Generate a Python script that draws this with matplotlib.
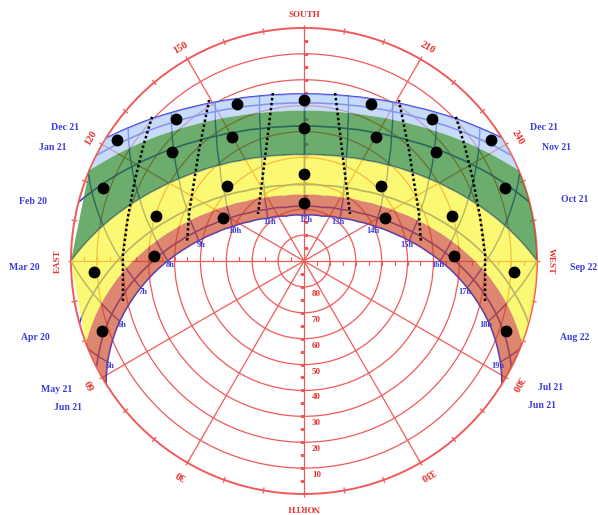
"""
Sun path diagram (latitude about 41 N), south at the top
"""
import numpy as np
import matplotlib
matplotlib.use("Agg")
import matplotlib.pyplot as plt
from matplotlib.markers import TICKLEFT, TICKRIGHT, TICKUP, TICKDOWN

NA = float("nan")

# solar time of the samples (morning half, the afternoon is the mirror image)
HOURS = [5, 5.5, 6, 6.5, 7, 7.5, 8, 8.5, 9, 9.5, 10, 10.5, 11, 11.5, 12]

# sunrise azimuth, then azimuth / altitude at each sample hour (nan = sun down)
DEC21_RISE = 121.8
DEC21_AZ = [NA, NA, NA, NA, NA, 122.0, 127.1, 132.5, 138.2, 144.3, 150.8, 157.7, 164.9, 172.4, 180.0]
DEC21_ALT = [NA, NA, NA, NA, NA, 0.2, 4.9, 9.2, 13.2, 16.8, 19.8, 22.3, 24.1, 25.2, 25.6]
JAN21_RISE = 116.9
JAN21_AZ = [NA, NA, NA, NA, NA, 119.6, 124.8, 130.4, 136.2, 142.6, 149.3, 156.5, 164.1, 172.0, 180.0]
JAN21_ALT = [NA, NA, NA, NA, NA, 2.7, 7.5, 12.0, 16.1, 19.8, 22.9, 25.5, 27.4, 28.6, 29.0]
FEB20_RISE = 104.6
FEB20_AZ = [NA, NA, NA, NA, 108.1, 113.3, 118.7, 124.5, 130.8, 137.6, 145.0, 153.0, 161.7, 170.6, 180.0]
FEB20_ALT = [NA, NA, NA, NA, 3.8, 9.1, 14.2, 19.0, 23.5, 27.6, 31.1, 34.0, 36.2, 37.5, 38.0]
MAR20_RISE = 90.0
MAR20_AZ = [NA, NA, NA, 94.9, 100.0, 105.2, 110.7, 116.7, 123.3, 130.6, 138.7, 147.8, 157.8, 168.7, 180.0]
MAR20_ALT = [NA, NA, NA, 5.6, 11.3, 16.8, 22.2, 27.4, 32.3, 36.8, 40.8, 44.2, 46.8, 48.4, 49.0]
APR20_RISE = 74.5
APR20_AZ = [NA, 76.4, 81.2, 86.0, 90.9, 95.9, 101.3, 107.1, 113.6, 121.0, 129.6, 139.7, 151.6, 165.2, 180.0]
APR20_ALT = [NA, 2.0, 7.6, 13.2, 18.9, 24.5, 30.1, 35.6, 40.9, 45.9, 50.5, 54.6, 57.8, 59.9, 60.6]
MAY21_RISE = 62.9
MAY21_AZ = [65.2, 70.0, 74.6, 79.1, 83.7, 88.4, 93.4, 98.8, 104.9, 111.9, 120.3, 130.8, 144.1, 160.8, 180.0]
MAY21_ALT = [2.4, 7.6, 13.0, 18.5, 24.1, 29.8, 35.4, 41.1, 46.6, 52.0, 57.1, 61.7, 65.5, 68.1, 69.1]
JUN21_RISE = 58.2
JUN21_AZ = [62.8, 67.4, 71.9, 76.3, 80.7, 85.3, 90.1, 95.2, 100.9, 107.6, 115.7, 126.1, 139.8, 158.0, 180.0]
JUN21_ALT = [4.7, 9.8, 15.1, 20.6, 26.1, 31.7, 37.4, 43.0, 48.6, 54.1, 59.4, 64.2, 68.4, 71.3, 72.4]

# edges of the coloured bands that do not sit on a date line
BLUE_GREEN_RISE = 112.8
BLUE_GREEN_AZ = [NA, NA, NA, NA, NA, 117.5, 122.8, 128.5, 134.5, 141.0, 148.0, 155.4, 163.3, 171.6, 180.0]
BLUE_GREEN_ALT = [NA, NA, NA, NA, NA, 4.8, 9.7, 14.3, 18.6, 22.4, 25.7, 28.4, 30.4, 31.6, 32.0]
YELLOW_RED_RISE = 69.3
YELLOW_RED_AZ = [NA, 73.4, 78.2, 82.9, 87.7, 92.6, 97.8, 103.5, 109.8, 117.1, 125.7, 136.0, 148.6, 163.5, 180.0]
YELLOW_RED_ALT = [NA, 4.6, 10.1, 15.7, 21.3, 27.0, 32.6, 38.2, 43.6, 48.8, 53.6, 57.9, 61.4, 63.7, 64.5]

# where the 5h, 6h and 7h lines meet the horizon
HOUR_HORIZON_AZ = [67.8, 90.0, 112.2]

# black dots
ROW1_AZ = [123, 138, 157, 180, 203, 222, 237]
ROW1_ALT = [4.0, 16.0, 24.0, 27.8, 24.0, 16.0, 4.0]
ROW2_AZ = [110, 129.5, 150, 180, 210, 230.5, 250]
ROW2_ALT = [7.3, 23.8, 34.7, 38.6, 34.7, 23.8, 7.3]
ROW3_AZ = [87, 107, 134, 180, 226, 253, 273]
ROW3_ALT = [8.6, 30.4, 48.5, 56.4, 48.5, 30.4, 8.6]
ROW4_AZ = [71, 92, 118, 180, 242, 268, 289]
ROW4_ALT = [7.3, 32.0, 54.4, 67.6, 54.4, 32.0, 7.3]

# dotted lines (morning side, mirrored for the afternoon)
DOTTED_A_AZ = [133.5, 125.3, 115.6, 104.0, 91.9, 77.2]
DOTTED_A_ALT = [9.1, 13.8, 17.6, 19.9, 20.0, 18.3]
DOTTED_B_AZ = [149.5, 136.6, 112.7, 98.7]
DOTTED_B_ALT = [17.8, 31.0, 41.9, 44.3]
DOTTED_C_AZ = [169.5, 161.1, 135.6]
DOTTED_C_ALT = [24.0, 44.7, 64.6]

LEFT_DATES = ["Dec 21", "Jan 21", "Feb 20", "Mar 20", "Apr 20", "May 21", "Jun 21"]
RIGHT_DATES = ["Dec 21", "Nov 21", "Oct 21", "Sep 22", "Aug 22", "Jul 21", "Jun 21"]
ALT_LABELS = [80, 70, 60, 50, 40, 30, 20, 10]
AZ_LABELS = ["NORTH", "30", "60", "EAST", "120", "150", "SOUTH", "210", "240",
             "WEST", "300", "330"]

RED = "#f05a5a"
RED_TXT = "#e8322e"
BLUE = "#3c3cdc"
FONT = "Liberation Serif"

CURVES = {
    "dec21": (DEC21_RISE, DEC21_AZ, DEC21_ALT),
    "jan21": (JAN21_RISE, JAN21_AZ, JAN21_ALT),
    "feb20": (FEB20_RISE, FEB20_AZ, FEB20_ALT),
    "mar20": (MAR20_RISE, MAR20_AZ, MAR20_ALT),
    "apr20": (APR20_RISE, APR20_AZ, APR20_ALT),
    "may21": (MAY21_RISE, MAY21_AZ, MAY21_ALT),
    "jun21": (JUN21_RISE, JUN21_AZ, JUN21_ALT),
    "blue_green": (BLUE_GREEN_RISE, BLUE_GREEN_AZ, BLUE_GREEN_ALT),
    "yellow_red": (YELLOW_RED_RISE, YELLOW_RED_AZ, YELLOW_RED_ALT),
}
DATE_CURVES = ["dec21", "jan21", "feb20", "mar20", "apr20", "may21", "jun21"]


def full_path(name):
    """sunrise -> noon -> sunset, as (theta, r) with r = zenith distance"""
    rise, azs, alts = CURVES[name]
    az = [rise] + [a for a in azs if not np.isnan(a)]
    alt = [0.0] + [a for a in alts if not np.isnan(a)]
    az = az + [360 - a for a in az[::-1][1:]]
    alt = alt + alt[::-1][1:]
    return np.radians(az), 90 - np.array(alt)


def curved(artist):
    # let the polar transform bend the segments instead of drawing chords
    artist.get_path()._interpolation_steps = 16
    return artist


fig = plt.figure(figsize=(5.98, 5.15), dpi=100)
ax = fig.add_axes([0.1187, 0.0408, 0.7793, 0.9049], projection="polar")
ax.set_theta_zero_location("S")
ax.set_theta_direction(-1)
ax.set_rlim(0, 90)
ax.set_axisbelow(True)
ax.set_thetagrids(range(0, 360, 30), labels=[])
ax.set_rgrids(range(10, 90, 10), labels=[])
ax.grid(True, color=RED, lw=0.9)
ax.spines["polar"].set_color(RED)
ax.spines["polar"].set_linewidth(1.4)
ax.tick_params(axis="x", which="major", length=0)
ax.tick_params(axis="y", length=0)

# short marks across the rim every 10 degrees
rim = np.radians(np.arange(0, 360, 10))
for dr in (-1.2, 1.2):
    ax.vlines(rim, 90, 90 + dr, color=RED, lw=0.9, zorder=1, clip_on=False)

# small ticks along the four main axes
ticks_r = np.arange(5, 90, 5)
for az, mk in [(0, TICKLEFT), (90, TICKUP), (180, TICKRIGHT), (270, TICKDOWN)]:
    ax.plot(np.full(len(ticks_r), np.radians(az)), ticks_r, ls="none", marker=mk,
            ms=3, mew=0.8, color=RED, zorder=1)

for alt in ALT_LABELS:
    ax.annotate(str(alt), (0, 90 - alt + 2.7), xytext=(9, 0), textcoords="offset points",
                ha="center", va="center", fontsize=6.5, color=RED_TXT,
                family=FONT, fontweight="bold")

for i, lab in enumerate(AZ_LABELS):
    az = 30 * i
    ax.text(np.radians(az), 95.2, lab, rotation=180 - az, rotation_mode="anchor",
            ha="center", va="center", fontsize=6.5 if lab.isalpha() else 7.5,
            color=RED_TXT, family=FONT, fontweight="bold")

# sun paths
for name in DATE_CURVES:
    th, r = full_path(name)
    curved(ax.plot(th, r, color=BLUE, lw=1.2, zorder=2)[0])

# hour lines and their labels
for k, h in enumerate(HOURS):
    if h != int(h):
        continue
    az = [CURVES[n][1][k] for n in DATE_CURVES if not np.isnan(CURVES[n][1][k])]
    alt = [CURVES[n][2][k] for n in DATE_CURVES if not np.isnan(CURVES[n][2][k])]
    if int(h) - 5 < len(HOUR_HORIZON_AZ):
        az = [HOUR_HORIZON_AZ[int(h) - 5]] + az
        alt = [0.0] + alt
    az = np.array(az)
    alt = np.array(alt)
    for a in (az, 360 - az):
        curved(ax.plot(np.radians(a), 90 - alt, color=BLUE, lw=1.0, zorder=2)[0])
    jaz, jalt = JUN21_AZ[k], JUN21_ALT[k]
    for a, lab, dx in ((jaz, "%dh" % h, 1.5), (360 - jaz, "%dh" % (24 - h), -1.5)):
        ax.annotate(lab, (np.radians(a), 90 - jalt), xytext=(dx, -3),
                    textcoords="offset points", ha="center", va="center",
                    fontsize=6, color=BLUE, family=FONT, fontweight="bold", zorder=6)
        if h == 12:
            break

# coloured bands, laid over the grid like a wash
bands = [("dec21", "blue_green", (170 / 255, 201 / 255, 247 / 255)),
         ("blue_green", "mar20", (30 / 255, 128 / 255, 30 / 255)),
         ("mar20", "yellow_red", (250 / 255, 245 / 255, 40 / 255)),
         ("yellow_red", "jun21", (204 / 255, 70 / 255, 35 / 255))]
for a, b, col in bands:
    t1, r1 = full_path(a)
    t2, r2 = full_path(b)
    poly = ax.fill(np.concatenate([t1, t2[::-1]]), np.concatenate([r1, r2[::-1]]),
                   color=col, alpha=0.65, lw=0, zorder=3)[0]
    curved(poly)

for az, alt in [(DOTTED_A_AZ, DOTTED_A_ALT), (DOTTED_B_AZ, DOTTED_B_ALT),
                (DOTTED_C_AZ, DOTTED_C_ALT)]:
    az = np.array(az)
    r = 90 - np.array(alt)
    for a in (az, 360 - az):
        ax.plot(np.radians(a), r, color="black", lw=1.8, ls=(0, (1, 1)), zorder=4)

for az, alt in [(ROW1_AZ, ROW1_ALT), (ROW2_AZ, ROW2_ALT), (ROW3_AZ, ROW3_ALT),
                (ROW4_AZ, ROW4_ALT)]:
    ax.plot(np.radians(az), 90 - np.array(alt), ls="none", marker="o", ms=7.5,
            color="black", zorder=5)

# date names beside the ends of the sun paths
W, H = 598.0, 515.0
left_xy = [(65, 128), (53, 148), (33, 201), (24, 268), (35, 338), (57, 390), (68, 408)]
right_xy = [(544, 127), (556, 147), (575, 200), (584, 268), (575, 337), (551, 388), (542, 406)]
for labs, xy in ((LEFT_DATES, left_xy), (RIGHT_DATES, right_xy)):
    for lab, (x, y) in zip(labs, xy):
        fig.text(x / W, 1 - y / H, lab, ha="center", va="center", fontsize=7,
                 color=BLUE, family=FONT, fontweight="bold")

fig.savefig("out.png")
